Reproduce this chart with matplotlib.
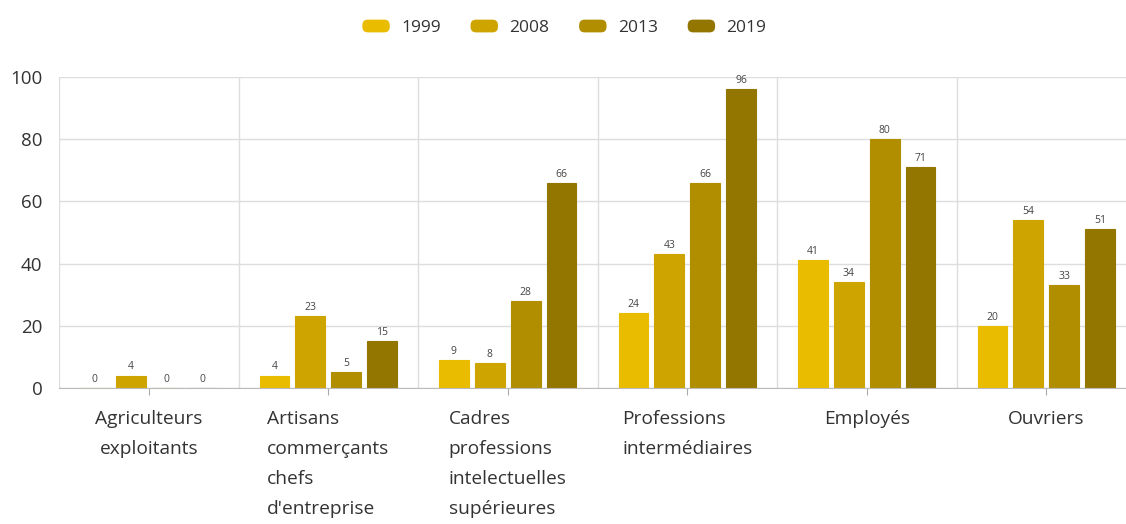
import numpy as np
import matplotlib.pyplot as plt
from matplotlib.patches import FancyBboxPatch, Rectangle
from matplotlib.legend_handler import HandlerPatch

plt.rcParams['font.family'] = ['Open Sans', 'DejaVu Sans']

categories = ["Agriculteurs\nexploitants",
              "Artisans\ncommerçants\nchefs\nd'entreprise",
              "Cadres\nprofessions\nintelectuelles\nsupérieures",
              "Professions\nintermédiaires",
              "Employés",
              "Ouvriers"]
years = ["1999", "2008", "2013", "2019"]
v1999 = [0, 4, 9, 24, 41, 20]
v2008 = [4, 23, 8, 43, 34, 54]
v2013 = [0, 5, 28, 66, 80, 33]
v2019 = [0, 15, 66, 96, 71, 51]
colors = ['#E9BC00', '#CEA500', '#B08E00', '#937600']

series = [v1999, v2008, v2013, v2019]


class RoundHandler(HandlerPatch):
    def create_artists(self, legend, orig, xdescent, ydescent, width, height, fontsize, trans):
        p = FancyBboxPatch((-xdescent + 2, -ydescent + 1), width - 4, height - 2,
                           boxstyle="round,pad=0,rounding_size=4",
                           facecolor=orig.get_facecolor(), edgecolor='none', transform=trans)
        return [p]


fig = plt.figure(figsize=(11.26, 5.24), dpi=100)
ax = fig.add_axes([59 / 1126, 1 - 388 / 524, (1136 - 59) / 1126, (388 - 77) / 524])

x = np.arange(len(categories))
offsets = [-0.3, -0.1, 0.1, 0.3]
for vals, off, c, yr in zip(series, offsets, colors, years):
    bars = ax.bar(x + off, vals, width=0.165, color=c, edgecolor=c, linewidth=0.8, label=yr)
    for b, v in zip(bars, vals):
        ax.text(b.get_x() + b.get_width() / 2, v + 1.0, str(v), ha='center', va='bottom',
                fontsize=7.5, color='#444444')

ax.set_xlim(-0.5, len(categories) - 0.5)
ax.set_ylim(0, 100)
ax.set_yticks([0, 20, 40, 60, 80, 100])
ax.set_xticks(x)
ax.set_xticklabels(categories, fontsize=13.8, color='#333333', linespacing=1.84, va='top')
for i, t in enumerate(ax.get_xticklabels()):
    t.set_multialignment('center' if i == 0 else 'left')
ax.tick_params(axis='x', length=5, color='#aaaaaa', pad=11)
ax.tick_params(axis='y', length=0, pad=12, labelsize=13.5, labelcolor='#333333')
ax.set_xticks(np.arange(-0.5, len(categories), 1), minor=True)
ax.tick_params(axis='x', which='minor', length=0)
ax.grid(axis='y', color='#dddddd', linewidth=1)
ax.grid(axis='x', which='minor', color='#dddddd', linewidth=1)
ax.set_axisbelow(True)
for s in ['top', 'right', 'left']:
    ax.spines[s].set_visible(False)
ax.spines['bottom'].set_color('#bbbbbb')

handles = [Rectangle((0, 0), 1, 1, facecolor=c) for c in colors]
leg = fig.legend(handles, years, loc='upper center', bbox_to_anchor=(0.5, 0.995), ncol=4,
                 frameon=False, fontsize=12.5, handlelength=1.9, handleheight=1.0,
                 columnspacing=1.55, handletextpad=0.5,
                 handler_map={Rectangle: RoundHandler()})
for t in leg.get_texts():
    t.set_color('#333333')

fig.savefig('out.png', dpi=100)
